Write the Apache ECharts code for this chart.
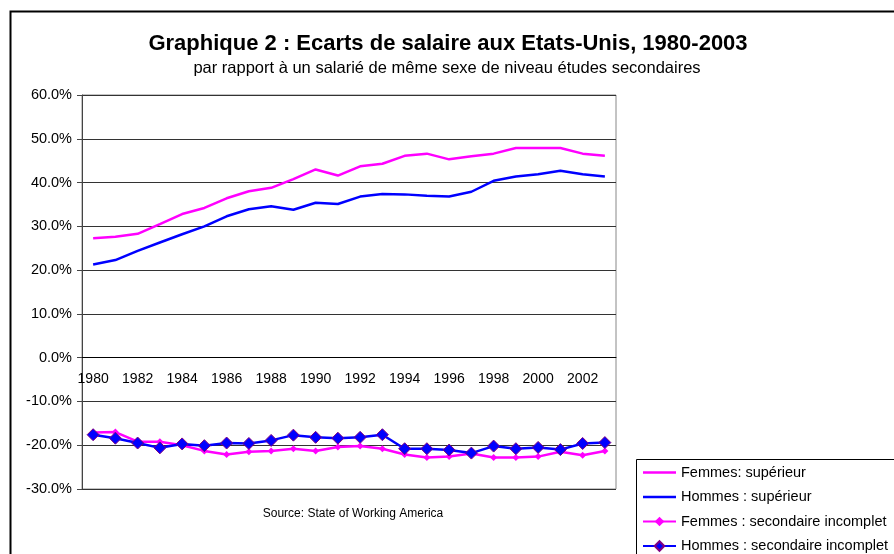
<!DOCTYPE html>
<html>
<head>
<meta charset="utf-8">
<script src="https://cdn.jsdelivr.net/npm/echarts@6/dist/echarts.min.js"></script>
<style>
  html, body { margin: 0; padding: 0; background: #fff; }
  #chart { width: 894px; height: 554px; }
</style>
</head>
<body>
<div id="chart"></div>
<script>
const years = ['1980', '1981', '1982', '1983', '1984', '1985', '1986', '1987', '1988', '1989', '1990', '1991',
  '1992', '1993', '1994', '1995', '1996', '1997', '1998', '1999', '2000', '2001', '2002', '2003'];

// ecarts en % par rapport au niveau secondaire
const femmesSup = [27.3, 27.6, 28.3, 30.5, 32.8, 34.2, 36.4, 38.0, 38.8, 40.8, 43.0, 41.6,
  43.7, 44.3, 46.1, 46.6, 45.3, 46.0, 46.6, 47.9, 47.9, 47.9, 46.6, 46.1];
const hommesSup = [21.3, 22.3, 24.4, 26.3, 28.2, 30.0, 32.3, 33.9, 34.6, 33.8, 35.4, 35.1,
  36.8, 37.4, 37.3, 37.0, 36.8, 37.9, 40.4, 41.4, 41.9, 42.7, 41.9, 41.4];
const femmesSec = [-17.1, -17.0, -19.2, -19.2, -20.0, -21.3, -22.1, -21.5, -21.3, -20.8, -21.3, -20.4,
  -20.2, -20.8, -22.1, -22.8, -22.6, -21.9, -22.8, -22.8, -22.6, -21.5, -22.3, -21.3];
const hommesSec = [-17.6, -18.4, -19.5, -20.6, -19.7, -20.1, -19.5, -19.6, -18.9, -17.7, -18.2, -18.4,
  -18.2, -17.6, -20.8, -20.8, -21.1, -21.8, -20.2, -20.8, -20.5, -21.0, -19.6, -19.4];

const seriesNames = ['Femmes: supérieur', 'Hommes : supérieur',
  'Femmes : secondaire incomplet', 'Hommes : secondaire incomplet'];

const yMin = -30, yMax = 60;
const font = 'Liberation Sans, Arial, sans-serif';
const pink = '#ff00ff';
const blue = '#0000ff';

// grid
const gridTop = 95, gridBottom = 65, chartH = 554;
const gridH = chartH - gridTop - gridBottom;
// the category axis sits on the 0% line
const xAxisOffset = -gridH * (0 - yMin) / (yMax - yMin);

const lineIcon = 'path://M0,0 L33,0 L33,2.5 L0,2.5 Z';

const chart = echarts.init(document.getElementById('chart'));
chart.setOption({
  animation: false,
  textStyle: { fontFamily: font },
  title: [
    {
      text: 'Graphique 2 : Ecarts de salaire aux Etats-Unis, 1980-2003',
      left: 443, top: 28, textAlign: 'center',
      textStyle: { fontSize: 22, fontWeight: 'bold', color: '#000', fontFamily: font }
    },
    {
      text: 'par rapport à un salarié de même sexe de niveau études secondaires',
      left: 442, top: 55, textAlign: 'center',
      textStyle: { fontSize: 16.5, fontWeight: 'normal', color: '#000', fontFamily: font }
    },
    {
      text: 'Source: State of Working America',
      left: 348, top: 503, textAlign: 'center',
      textStyle: { fontSize: 12, fontWeight: 'normal', color: '#000', fontFamily: font }
    }
  ],
  grid: {
    left: 82, right: 278, top: gridTop, bottom: gridBottom,
    show: true, borderColor: '#888', borderWidth: 1
  },
  legend: {
    orient: 'vertical',
    left: 642, top: 465, height: 120,
    itemWidth: 33, itemHeight: 12, itemGap: 9.5,
    padding: 0,
    textStyle: { fontSize: 14.5, color: '#000', fontFamily: font },
    data: [
      { name: seriesNames[0], icon: lineIcon },
      { name: seriesNames[1], icon: lineIcon },
      seriesNames[2],
      seriesNames[3]
    ]
  },
  xAxis: {
    type: 'category',
    data: years,
    boundaryGap: true,
    offset: xAxisOffset,
    axisLine: { onZero: false, lineStyle: { color: '#000', width: 1 } },
    axisTick: { interval: 0, length: 5, lineStyle: { color: '#000' } },
    axisLabel: { interval: 1, margin: 14, fontSize: 14, color: '#000', fontFamily: font },
    splitLine: { show: false }
  },
  yAxis: {
    type: 'value',
    min: yMin, max: yMax, interval: 10,
    axisLine: { show: true, lineStyle: { color: '#444' } },
    axisTick: { show: true, length: 5, lineStyle: { color: '#444' } },
    axisLabel: {
      margin: 10, fontSize: 14.5, color: '#000', fontFamily: font,
      formatter: v => v.toFixed(1) + '%'
    },
    splitLine: { lineStyle: { color: '#333', width: 1 } }
  },
  graphic: [
    {
      type: 'rect', z: -10, silent: true,
      shape: { x: 10.5, y: 11.5, width: 1000, height: 1000 },
      style: { fill: null, stroke: '#000', lineWidth: 2 }
    },
    {
      type: 'rect', z: 0, silent: true,
      shape: { x: 636.5, y: 459.5, width: 300, height: 120 },
      style: { fill: '#fff', stroke: '#000', lineWidth: 1 }
    }
  ],
  series: [
    {
      name: seriesNames[0], type: 'line', data: femmesSup,
      symbol: 'none', lineStyle: { color: pink, width: 2.5 }, itemStyle: { color: pink }
    },
    {
      name: seriesNames[1], type: 'line', data: hommesSup,
      symbol: 'none', lineStyle: { color: blue, width: 2.5 }, itemStyle: { color: blue }
    },
    {
      name: seriesNames[2], type: 'line', data: femmesSec,
      symbol: 'diamond', symbolSize: 7,
      lineStyle: { color: pink, width: 2.5 }, itemStyle: { color: pink }
    },
    {
      name: seriesNames[3], type: 'line', data: hommesSec,
      symbol: 'diamond', symbolSize: 12,
      lineStyle: { color: blue, width: 2.5 },
      itemStyle: { color: blue, borderColor: '#800080', borderWidth: 1 }
    }
  ]
});
</script>
</body>
</html>
